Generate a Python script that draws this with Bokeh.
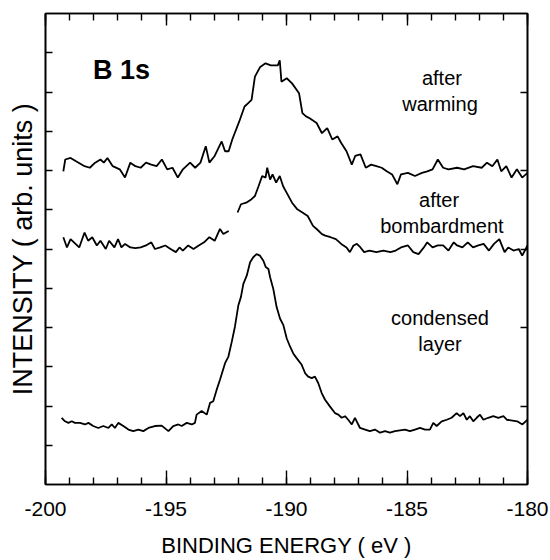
import math
from bokeh.plotting import figure
from bokeh.models import LinearAxis, FixedTicker, Range1d, CustomJSTickFormatter
from bokeh.core.properties import value
from bokeh.embed import file_html
from bokeh.resources import INLINE

NaN = float("nan")

# ---- data (binding energy in eV, intensity in arb. units) ----
warm_x = [-199.26, -199.18, -198.96, -198.75, -198.38, -198.16, -197.94, -197.72, -197.58, -197.43,
          -197.21, -196.92, -196.70, -196.48, -196.27, -196.05, -195.83, -195.61, -195.39, -195.17,
          -194.95, -194.73, -194.51, -194.30, -194.00, -193.79, -193.57, -193.35, -193.20, -192.98,
          -192.69, -192.55, -192.40, -192.25, -191.96, -191.74, -191.60, -191.45, -191.31, -191.09,
          -190.87, -190.65, -190.36, -190.28, -190.21, -189.99, -189.77, -189.48, -189.34, -189.19,
          -189.04, -188.75, -188.53, -188.31, -188.10, -187.88, -187.73, -187.51, -187.29, -187.15,
          -186.93, -186.71, -186.49, -186.27, -186.05, -185.84, -185.62, -185.40, -185.25, -184.96,
          -184.67, -184.38, -184.16, -183.94, -183.72, -183.50, -183.28, -182.92, -182.63, -182.26,
          -181.90, -181.68, -181.46, -181.25, -181.09, -180.88, -180.66, -180.44, -180.22, -180.00]
warm_y = [7.98, 8.28, 8.32, 8.24, 8.11, 8.07, 8.20, 8.28, 8.20, 8.32,
          8.11, 8.03, 7.82, 8.20, 8.11, 8.07, 8.20, 8.15, 8.11, 8.28,
          8.03, 8.07, 7.82, 8.03, 8.20, 8.07, 8.20, 8.62, 8.20, 8.37,
          8.74, 8.49, 8.49, 8.79, 9.25, 9.63, 9.71, 9.80, 10.39, 10.64,
          10.73, 10.68, 10.68, 10.81, 10.26, 10.35, 10.22, 9.97, 9.46, 9.38,
          9.33, 9.21, 8.95, 9.08, 8.79, 8.87, 8.70, 8.49, 8.15, 8.37,
          8.41, 8.07, 8.15, 8.11, 8.07, 7.98, 7.90, 7.65, 7.90, 7.94,
          7.86, 7.94, 7.98, 8.03, 8.28, 8.07, 8.03, 8.07, 8.03, 8.11,
          8.07, 8.20, 8.11, 8.28, 7.98, 8.11, 7.82, 8.03, 7.82, 7.94]

bomb_x = [-199.26, -199.11, -198.96, -198.82, -198.60, -198.38, -198.23, -198.06, -197.87, -197.72,
          -197.50, -197.36, -197.14, -196.99, -196.85, -196.70, -196.48, -196.27, -196.05, -195.83,
          -195.61, -195.46, -195.24, -195.03, -194.81, -194.59, -194.44, -194.30, -194.08, -193.86,
          -193.64, -193.42, -193.20, -192.98, -192.76, -192.62, -192.40, NaN,
          -192.03, -191.89, -191.67, -191.45, -191.31, -191.16, -191.01, -190.87, -190.80, -190.68,
          -190.58, -190.43, -190.28, -190.14, -189.99, -189.77, -189.55, -189.34, -189.12, -188.90,
          -188.75, -188.53, -188.39, -188.17, -187.95, -187.73, -187.51, -187.37, -187.22, -187.08,
          -186.93, -186.78, -186.56, -186.27, -185.98, -185.69, -185.47, -185.25, -184.96, -184.74,
          -184.52, -184.30, -184.16, -183.94, -183.72, -183.50, -183.28, -183.06, -182.92, -182.70,
          -182.48, -182.26, -182.04, -181.82, -181.60, -181.39, -181.17, -180.95, -180.80, -180.58,
          -180.36, -180.22, -180.00]
bomb_y = [6.30, 6.04, 6.25, 6.17, 6.04, 6.42, 6.21, 6.30, 6.09, 6.21,
          6.00, 6.21, 6.04, 6.25, 6.04, 6.13, 6.04, 6.02, 6.04, 6.09,
          6.17, 6.00, 6.04, 6.09, 6.00, 5.92, 6.04, 5.96, 6.09, 6.00,
          6.09, 6.17, 6.30, 6.21, 6.51, 6.38, 6.46, NaN,
          6.93, 7.14, 7.18, 7.27, 7.35, 7.60, 7.86, 7.82, 8.07, 7.77,
          7.90, 7.69, 7.86, 7.60, 7.43, 7.18, 7.01, 6.93, 6.84, 6.59,
          6.51, 6.38, 6.34, 6.30, 6.25, 6.13, 6.04, 5.92, 6.09, 6.13,
          6.04, 5.92, 5.96, 5.92, 5.96, 5.92, 5.96, 6.04, 6.09, 5.92,
          5.87, 6.04, 6.17, 6.04, 6.09, 6.09, 5.96, 6.17, 6.09, 6.04,
          6.17, 6.04, 6.09, 6.13, 5.96, 6.13, 6.25, 5.92, 6.04, 5.96,
          6.00, 5.83, 6.09]

cond_x = [-199.33, -199.19, -199.05, -198.91, -198.78, -198.57, -198.36, -198.22, -198.02, -197.81,
          -197.60, -197.39, -197.25, -197.12, -196.98, -196.77, -196.56, -196.36, -196.15, -195.94,
          -195.73, -195.46, -195.18, -194.90, -194.70, -194.49, -194.35, -194.14, -193.93, -193.80,
          -193.73, -193.52, -193.31, -193.17, -193.04, -192.90, -192.76, -192.55, -192.41, -192.27,
          -192.14, -192.00, -191.89, -191.79, -191.65, -191.51, -191.38, -191.24, -191.10, -190.96,
          -190.86, -190.75, -190.68, -190.55, -190.41, -190.27, -190.13, -189.99, -189.85, -189.72,
          -189.58, -189.37, -189.23, -189.10, -188.95, -188.82, -188.68, -188.54, -188.40, -188.20,
          -187.99, -187.85, -187.71, -187.57, -187.44, -187.29, -187.16, -186.95, -186.74, -186.54,
          -186.33, -186.12, -185.91, -185.71, -185.50, -185.29, -185.08, -184.88, -184.67, -184.46,
          -184.25, -184.05, -183.91, -183.77, -183.56, -183.35, -183.15, -182.94, -182.80, -182.66,
          -182.52, -182.39, -182.25, -182.11, -181.97, -181.83, -181.63, -181.42, -181.21, -181.00,
          -180.86, -180.43, -180.21, -180.00]
cond_y = [1.70, 1.61, 1.57, 1.61, 1.57, 1.57, 1.53, 1.57, 1.49, 1.44,
          1.49, 1.44, 1.53, 1.44, 1.57, 1.49, 1.40, 1.36, 1.40, 1.36,
          1.44, 1.49, 1.50, 1.36, 1.49, 1.53, 1.49, 1.57, 1.53, 1.57,
          1.78, 1.87, 1.78, 2.08, 2.12, 2.41, 2.67, 3.09, 3.26, 3.64,
          4.02, 4.56, 4.78, 5.11, 5.32, 5.66, 5.79, 5.87, 5.83, 5.70,
          5.54, 5.49, 5.28, 4.99, 4.52, 4.23, 4.06, 3.72, 3.51, 3.34,
          3.22, 3.05, 2.84, 2.75, 2.71, 2.75, 2.58, 2.33, 2.16, 1.99,
          1.82, 1.78, 1.70, 1.74, 1.65, 1.53, 1.70, 1.44, 1.40, 1.36,
          1.40, 1.32, 1.36, 1.32, 1.36, 1.38, 1.40, 1.36, 1.40, 1.44,
          1.40, 1.40, 1.57, 1.49, 1.61, 1.65, 1.70, 1.82, 1.74, 1.82,
          1.65, 1.74, 1.61, 1.70, 1.78, 1.65, 1.70, 1.74, 1.70, 1.74,
          1.65, 1.61, 1.53, 1.65]

x_major = [-200, -195, -190, -185, -180]
x_major_labels = ["-200", "-195", "-190", "-185", "-180"]
x_minor = list(range(-200, -179))
y_left_ticks = list(range(1, 12))
y_right_ticks = [2, 4, 6, 8, 10]

FONT = "Liberation Sans"

p = figure(width=550, height=560, x_range=Range1d(-200, -180), y_range=Range1d(0, 12),
           output_backend="svg", toolbar_location=None,
           min_border_left=45, min_border_right=23, min_border_top=13, min_border_bottom=73,
           x_axis_label="BINDING ENERGY ( eV )", y_axis_label="INTENSITY ( arb. units )")
p.grid.visible = False
p.outline_line_color = "black"
p.outline_line_width = 1.6
p.background_fill_color = "white"
p.border_fill_color = "white"

blank = CustomJSTickFormatter(code="return '';")

xa = p.xaxis[0]
xa.ticker = FixedTicker(ticks=x_major, minor_ticks=x_minor)
xa.major_label_overrides = {t: s for t, s in zip(x_major, x_major_labels)}
xa.major_tick_in = 14
xa.major_tick_out = 0
xa.minor_tick_in = 7
xa.minor_tick_out = 0
xa.axis_line_width = 1.6
xa.major_tick_line_width = 1.4
xa.minor_tick_line_width = 1.4
xa.major_label_text_font = FONT
xa.major_label_text_font_size = "21px"
xa.major_label_text_color = "black"
xa.major_label_standoff = 17
xa.axis_label_text_font = FONT
xa.axis_label_text_font_size = "22px"
xa.axis_label_text_font_style = "normal"
xa.axis_label_text_color = "black"
xa.axis_label_standoff = 14

ya = p.yaxis[0]
ya.ticker = FixedTicker(ticks=y_left_ticks, minor_ticks=[])
ya.formatter = blank
ya.major_tick_in = 7
ya.major_tick_out = 0
ya.minor_tick_in = 0
ya.minor_tick_out = 0
ya.axis_line_width = 1.6
ya.major_tick_line_width = 1.4
ya.major_label_standoff = 0
ya.axis_label_text_font = FONT
ya.axis_label_text_font_size = "27px"
ya.axis_label_text_font_style = "normal"
ya.axis_label_text_color = "black"
ya.axis_label_standoff = 8

top = LinearAxis(ticker=FixedTicker(ticks=x_major, minor_ticks=x_minor), formatter=blank,
                 major_tick_in=12, major_tick_out=0, minor_tick_in=7, minor_tick_out=0,
                 major_label_standoff=0,
                 axis_line_width=1.6, major_tick_line_width=1.4, minor_tick_line_width=1.4)
p.add_layout(top, "above")

right = LinearAxis(ticker=FixedTicker(ticks=y_right_ticks, minor_ticks=[]), formatter=blank,
                   major_tick_in=7, major_tick_out=0, minor_tick_in=0, minor_tick_out=0,
                   major_label_standoff=0,
                   axis_line_width=1.6, major_tick_line_width=1.4)
p.add_layout(right, "right")

for xs, ys in [(warm_x, warm_y), (bomb_x, bomb_y), (cond_x, cond_y)]:
    p.line(xs, ys, line_color="black", line_width=1.8)

p.text(x=[-198.03], y=[10.56], text=["B 1s"], text_font=value(FONT), text_font_size="27px",
       text_font_style="bold", text_align="left", text_baseline="alphabetic", text_color="black")

lab_x = [-183.55, -183.63, -183.67, -183.55, -183.63, -183.63]
lab_y = [10.35, 9.70, 7.24, 6.58, 4.23, 3.59]
lab_t = ["after", "warming", "after", "bombardment", "condensed", "layer"]
p.text(x=lab_x, y=lab_y, text=lab_t, text_font=value(FONT), text_font_size="20px",
       text_align="center", text_baseline="middle", text_color="black")

open("out.html", "w").write(file_html(p, INLINE))
